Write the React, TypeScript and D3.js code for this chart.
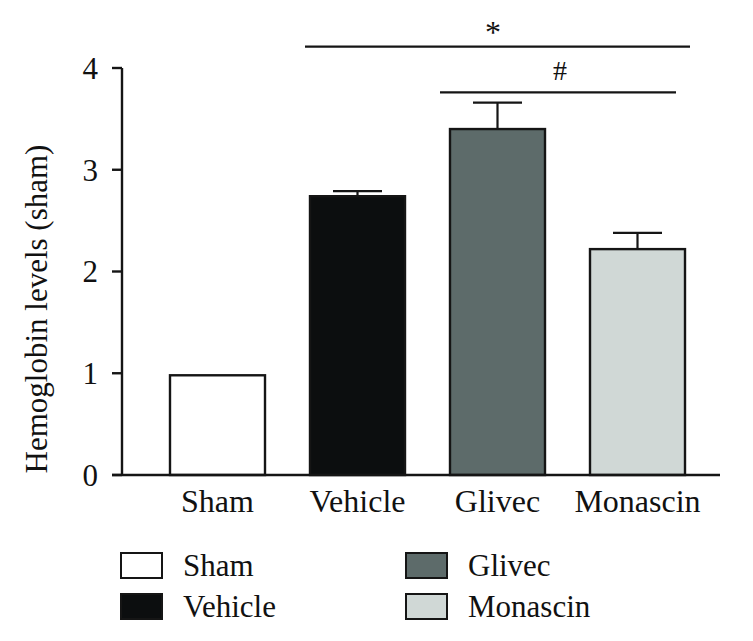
import React from "react";
import * as d3 from "d3";

const categories = ["Sham", "Vehicle", "Glivec", "Monascin"];
const values = [0.98, 2.74, 3.4, 2.22];
const errors = [0, 0.05, 0.26, 0.16];
const colors = ["#ffffff", "#0c0e0f", "#5d6b6a", "#d0d8d6"];
const yTicks = [0, 1, 2, 3, 4];
const yLabel = "Hemoglobin levels (sham)";
const sigBars = [
  { from: "Vehicle", to: "Monascin", level: 4.21, label: "*" },
  { from: "Glivec", to: "Monascin", level: 3.76, label: "#" },
];

const FONT = "'Liberation Serif', 'DejaVu Serif', serif";

export default function App() {
  const W = 753, H = 641;
  const axisX = 122;
  const y = d3.scaleLinear().domain([0, 4]).range([475, 68]);
  const x = d3
    .scaleBand<string>()
    .domain(categories)
    .range([147.5, 707.5])
    .paddingInner(0.3214)
    .paddingOuter(0.1607);
  const bw = x.bandwidth();
  const stroke = "#151515";

  return (
    <svg width={W} height={H} style={{ position: "absolute", left: 0, top: 0, background: "#fff" }}>
      {/* bars */}
      {categories.map((c, i) => {
        const x0 = x(c)!;
        const cx = x0 + bw / 2;
        return (
          <g key={c}>
            {errors[i] > 0 && (
              <g stroke={stroke} strokeWidth={2.2}>
                <line x1={cx} x2={cx} y1={y(values[i])} y2={y(values[i] + errors[i])} />
                <line x1={cx - 24.5} x2={cx + 24.5} y1={y(values[i] + errors[i])} y2={y(values[i] + errors[i])} />
              </g>
            )}
            <rect x={x0} y={y(values[i])} width={bw} height={y(0) - y(values[i])} fill={colors[i]} stroke={stroke} strokeWidth={2.4} />
          </g>
        );
      })}
      {/* axes */}
      <line x1={axisX} x2={axisX} y1={y(4)} y2={y(0)} stroke={stroke} strokeWidth={2.4} />
      <line x1={axisX - 10} x2={720} y1={y(0)} y2={y(0)} stroke={stroke} strokeWidth={2.4} />
      {yTicks.map((t) => (
        <g key={t}>
          <line x1={axisX - 10} x2={axisX} y1={y(t)} y2={y(t)} stroke={stroke} strokeWidth={2.4} />
          <text x={98} y={y(t)} dy="0.35em" textAnchor="end" fontFamily={FONT} fontSize={31} fill="#111">
            {t}
          </text>
        </g>
      ))}
      {categories.map((c) => (
        <text key={c} x={x(c)! + bw / 2} y={512} textAnchor="middle" fontFamily={FONT} fontSize={32} fill="#111">
          {c}
        </text>
      ))}
      <text
        transform={`translate(47,309) rotate(-90)`}
        textAnchor="middle"
        fontFamily={FONT}
        fontSize={31}
        fill="#111"
      >
        {yLabel}
      </text>
      {/* significance */}
      {sigBars.map((s) => {
        const x1 = x(s.from)! - (s.from === "Vehicle" ? 5 : 10);
        const x2 = x(s.to)! + bw + (s.label === "*" ? 5 : -9);
        const isStar = s.label === "*";
        return (
          <g key={s.label}>
            <line x1={x1} x2={x2} y1={y(s.level)} y2={y(s.level)} stroke={stroke} strokeWidth={2.4} />
            <text x={isStar ? 493 : 560} y={isStar ? y(s.level) - 4 : y(s.level) - 12} textAnchor="middle" fontFamily={FONT} fontSize={isStar ? 32 : 28} fill="#111">
              {s.label}
            </text>
          </g>
        );
      })}
      {/* legend */}
      {categories.map((c, i) => {
        const col = Math.floor(i / 2);
        const row = i % 2;
        const lx = col === 0 ? 121 : 406;
        const ly = row === 0 ? 553 : 594;
        return (
          <g key={"lg" + c}>
            <rect x={lx} y={ly} width={41} height={25} fill={colors[i]} stroke={stroke} strokeWidth={2} />
            <text x={lx + 62} y={ly + 12.5} dy="0.35em" fontFamily={FONT} fontSize={31} fill="#111">
              {c}
            </text>
          </g>
        );
      })}
    </svg>
  );
}
